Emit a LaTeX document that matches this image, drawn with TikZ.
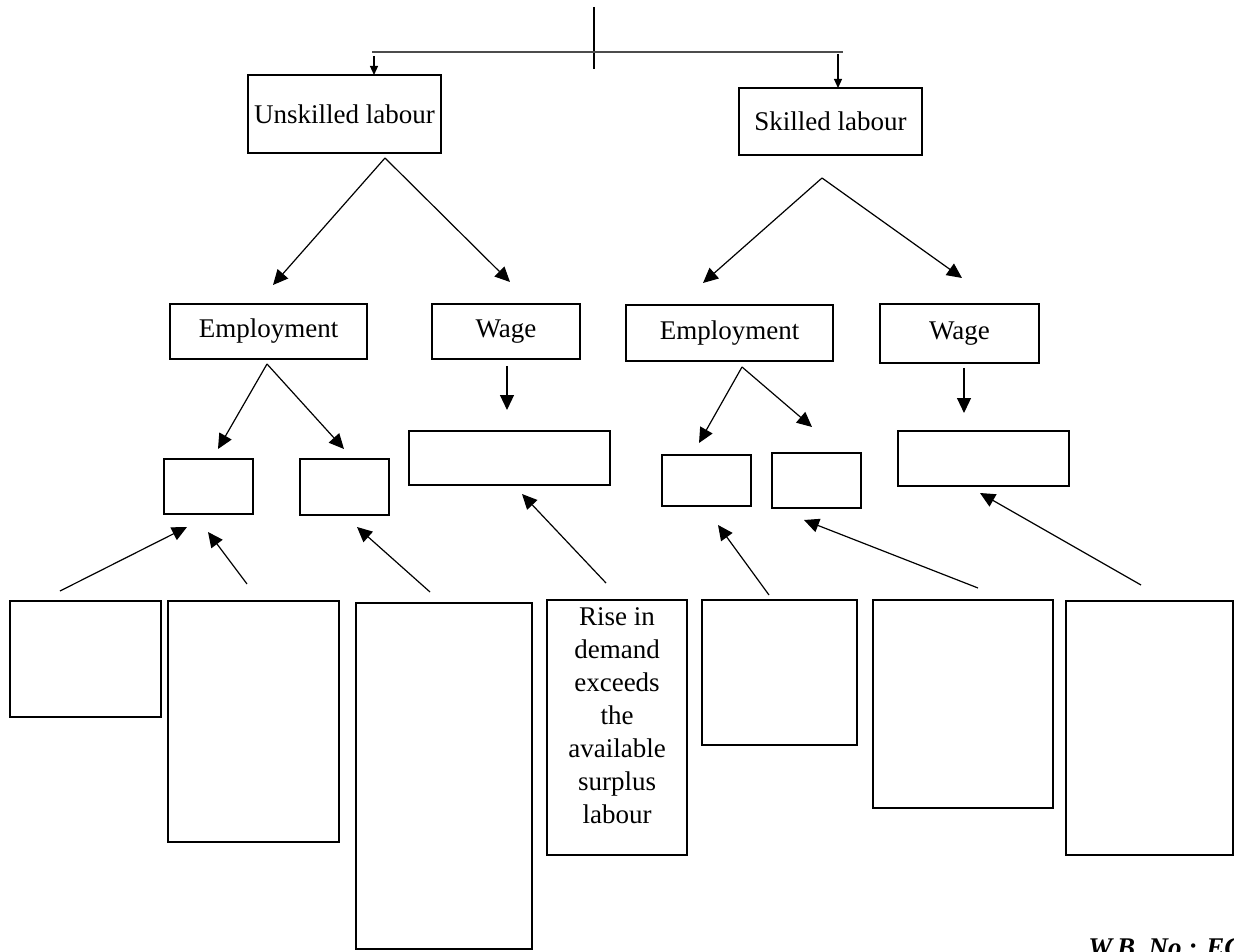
\documentclass[tikz,border=0pt]{standalone}
\usepackage{fontspec}
\setmainfont{Liberation Serif}
\usetikzlibrary{arrows.meta}
\begin{document}
\begin{tikzpicture}[x=0.5pt,y=-0.5pt,
  font=\fontsize{13.5}{16.5}\selectfont,
  bx/.style 2 args={draw, line width=1.3pt, inner sep=0pt, minimum width=#1*0.5pt, minimum height=#2*0.5pt},
  conn/.style={line width=0.6pt},
  arr/.style={line width=0.6pt, -{Triangle[length=7.5pt,width=7pt]}},
  sarr/.style={line width=0.6pt, -{Triangle[length=4.5pt,width=4pt]}}]
\useasboundingbox (0,0) rectangle (1234,951);
\clip (0,0) rectangle (1234,951);
% top connectors
\coordinate (topA) at (594,7);
\coordinate (topB) at (594,69);
\coordinate (barL) at (372,52);
\coordinate (barR) at (843,52);
\coordinate (dl0) at (374,56);
\coordinate (dl1) at (374,75);
\coordinate (dr0) at (838,54);
\coordinate (dr1) at (838,88);
\draw[conn] (topA) -- (topB);
\draw[line width=1.1pt, draw=black!70] (barL) -- (barR);
\draw[sarr] (dl0) -- (dl1);
\draw[sarr] (dr0) -- (dr1);
% level 1
\node[bx={193}{78}] (un) at (344.5,114) {Unskilled labour};
\node[bx={183}{67}] (sk) at (830.5,121.5) {Skilled labour};
% level 2
\node[bx={197}{55}] (e1) at (268.5,331.5) {Employment};
\node[bx={148}{55}] (w1) at (506,331.5) {Wage};
\node[bx={207}{56}] (e2) at (729.5,333) {Employment};
\node[bx={159}{59}] (w2) at (959.5,333.5) {Wage};
% level 3
\node[bx={89}{55}] (b1) at (208.5,486.5) {};
\node[bx={89}{56}] (b2) at (344.5,487) {};
\node[bx={201}{54}] (b3) at (509.5,458) {};
\node[bx={89}{51}] (b4) at (706.5,480.5) {};
\node[bx={89}{55}] (b5) at (816.5,480.5) {};
\node[bx={171}{55}] (b6) at (983.5,458.5) {};
% bottom
\node[bx={151}{116}] (B1) at (85.5,659) {};
\node[bx={171}{241}] (B2) at (253.5,721.5) {};
\node[bx={176}{346}] (B3) at (444,776) {};
\node[bx={140}{255}] (B4) at (617,727.5) {};
\node[align=center, inner sep=0pt] (B4t) at (617,716) {Rise in\\demand\\exceeds\\the\\available\\surplus\\labour};
\node[bx={155}{145}] (B5) at (779.5,672.5) {};
\node[bx={180}{208}] (B6) at (963,704) {};
\node[bx={167}{254}] (B7) at (1149.5,728) {};
% arrow coordinates
\coordinate (unF) at (385,158);
\coordinate (unL) at (273,285);
\coordinate (unR) at (510,282);
\coordinate (skF) at (822,178);
\coordinate (skL) at (703,283);
\coordinate (skR) at (962,278);
\coordinate (e1F) at (267,364);
\coordinate (e1L) at (218,449);
\coordinate (e1R) at (344,449);
\coordinate (w1F) at (507,366);
\coordinate (w1T) at (507,410);
\coordinate (e2F) at (742,367);
\coordinate (e2L) at (699,443);
\coordinate (e2R) at (812,427);
\coordinate (w2F) at (964,368);
\coordinate (w2T) at (964,413);
\coordinate (u1s) at (60,591);   \coordinate (u1t) at (187,527);
\coordinate (u2s) at (247,584);  \coordinate (u2t) at (208,532);
\coordinate (u3s) at (430,592);  \coordinate (u3t) at (357,527);
\coordinate (u4s) at (606,583);  \coordinate (u4t) at (522,494);
\coordinate (u5s) at (769,595);  \coordinate (u5t) at (718,525);
\coordinate (u6s) at (978,588);  \coordinate (u6t) at (804,520);
\coordinate (u7s) at (1141,585); \coordinate (u7t) at (980,493);
\draw[arr] (unF) -- (unL);
\draw[arr] (unF) -- (unR);
\draw[arr] (skF) -- (skL);
\draw[arr] (skF) -- (skR);
\draw[arr] (e1F) -- (e1L);
\draw[arr] (e1F) -- (e1R);
\draw[arr] (w1F) -- (w1T);
\draw[arr] (e2F) -- (e2L);
\draw[arr] (e2F) -- (e2R);
\draw[arr] (w2F) -- (w2T);
\draw[arr] (u1s) -- (u1t);
\draw[arr] (u2s) -- (u2t);
\draw[arr] (u3s) -- (u3t);
\draw[arr] (u4s) -- (u4t);
\draw[arr] (u5s) -- (u5t);
\draw[arr] (u6s) -- (u6t);
\draw[arr] (u7s) -- (u7t);
% cut-off footer text
\node[anchor=base west, inner sep=0pt, font=\fontsize{13.5}{16.5}\selectfont\bfseries\itshape] (wb) at (1088,956) {W.B. No.: EC};
\end{tikzpicture}
\end{document}
